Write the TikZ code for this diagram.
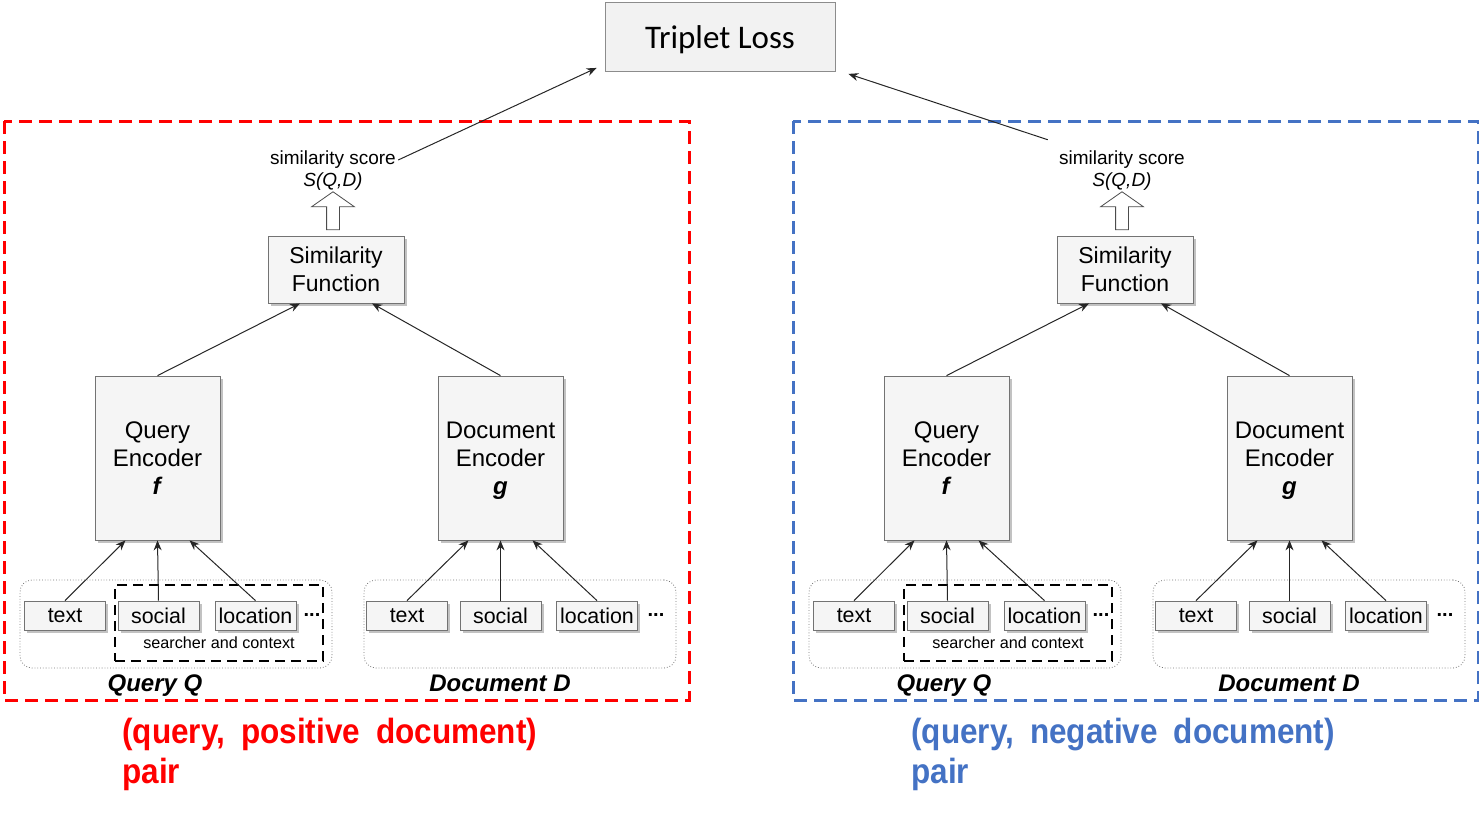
\documentclass[tikz,border=0pt]{standalone}
\usepackage{fontspec}
\setmainfont{Liberation Sans}
\newfontfamily\calib{Carlito}
\newfontfamily\pairfont[FakeStretch=0.9]{Liberation Sans}
\usetikzlibrary{arrows.meta,shadows,shapes.arrows}
\definecolor{pairred}{HTML}{FF0000}
\definecolor{pairblue}{HTML}{4472C4}

\begin{document}
\begin{tikzpicture}[x=0.5pt,y=-0.5pt,
  box/.style={draw=black!55,fill=black!4,align=center,inner sep=0pt,
    drop shadow={shadow xshift=1.3pt,shadow yshift=-1.3pt,fill=black!40,opacity=.6}},
  encoder/.style={box,minimum width=62.5pt,minimum height=82pt,font=\fontsize{12}{14}\selectfont},
  simfun/.style={box,minimum width=68pt,minimum height=33.5pt,font=\fontsize{11.5}{14}\selectfont},
  field/.style={box,minimum width=40.5pt,minimum height=14.5pt,font=\fontsize{10.7}{12}\selectfont},
  group/.style={draw=black!55,densely dotted,rounded corners=6pt,minimum width=156pt,minimum height=44pt},
  context/.style={draw=black,line width=1pt,dash pattern=on 5pt off 3pt,minimum width=104pt,minimum height=38pt},
  pairframe/.style={line width=1.5pt,dash pattern=on 6.5pt off 3.5pt},
  pairlabel/.style={font=\pairfont\bfseries\fontsize{17.5}{20}\selectfont,align=left,inner sep=0pt},
  losbox/.style={draw=black!45,fill=black!5,minimum width=115pt,minimum height=34.5pt,text depth=0pt,
    font=\calib\fontsize{16.5}{18}\selectfont},
  hollow/.style={single arrow,draw=black!70,fill=white,inner sep=3pt,minimum height=19pt,
    single arrow head extend=7.5pt,single arrow tip angle=110,rotate=90},
  conn/.style={draw=black!85,line width=0.5pt,-{Stealth[length=5pt,width=4pt]}}]

\useasboundingbox (0,0) rectangle (1479,814);

\node[losbox] (loss) at (720,37) {Triplet Loss};

\foreach \p/\dx/\col/\kind in {L/0/pairred/positive,R/789/pairblue/negative}{
\begin{scope}[shift={(\dx,0)}]
  % pair frame and its caption
  \draw[pairframe,draw=\col] (4,121) rectangle (689,700);
  \node[pairlabel,text=\col,anchor=west] (cap\p) at (122,754) {(query,\hspace{8pt}\kind\hspace{8pt}document)\\pair};

  % score
  \node[font=\fontsize{9.5}{11}\selectfont,inner sep=1pt] (score\p) at (333,160) {similarity score};
  \node[font=\fontsize{9.5}{11}\selectfont\itshape,inner sep=1pt] (sqd\p) at (333,182) {S(Q,D)};
  \node[hollow] (up\p) at (333,213) {};
  \node[simfun] (sim\p) at (336,269.5) {Similarity\\Function};

  % encoders
  \node[encoder] (qenc\p) at (157.5,458) {Query\\Encoder\\\textbf{\textit{f}}};
  \node[encoder] (denc\p) at (500.5,458) {Document\\Encoder\\\smash{\textbf{\textit{g}}}};
  \draw[conn] (qenc\p.north) -- ([xshift=-18pt]sim\p.south);
  \draw[conn] (denc\p.north) -- ([xshift=18pt]sim\p.south);

  % query input
  \node[group] (qin\p) at (176,624) {};
  \node[context] (ctx\p) at (219,623) {};
  \node[field] (qtext\p) at (65,615.5) {text};
  \node[field] (qsoc\p) at (158.5,615.5) {social};
  \node[field] (qloc\p) at (255.5,615.5) {location};
  \node[font=\bfseries] (qdots\p) at (312,615) {...};
  \node[font=\fontsize{8.1}{10}\selectfont] (sc\p) at (219,643) {searcher and context};
  \node[font=\bfseries\itshape\fontsize{12}{14}\selectfont] (qname\p) at (155,686) {Query Q};
  \draw[conn] (qtext\p.north) -- ([xshift=-16pt]qenc\p.south);
  \draw[conn] (qsoc\p.north) -- (qenc\p.south);
  \draw[conn] (qloc\p.north) -- ([xshift=16pt]qenc\p.south);

  % document input
  \node[group] (din\p) at (520,624) {};
  \node[field] (dtext\p) at (407,615.5) {text};
  \node[field] (dsoc\p) at (500.5,615.5) {social};
  \node[field] (dloc\p) at (597,615.5) {location};
  \node[font=\bfseries] (ddots\p) at (656,615) {...};
  \node[font=\bfseries\itshape\fontsize{12}{14}\selectfont] (dname\p) at (500,683) {Document D};
  \draw[conn] (dtext\p.north) -- ([xshift=-16pt]denc\p.south);
  \draw[conn] (dsoc\p.north) -- (denc\p.south);
  \draw[conn] (dloc\p.north) -- ([xshift=16pt]denc\p.south);
\end{scope}
}

\draw[conn] (scoreL.east) -- ([xshift=-4pt,yshift=2pt]loss.south west);
\draw[conn] ([xshift=-4.5pt,yshift=4.5pt]scoreR.north west) -- ([xshift=6.5pt,yshift=-1pt]loss.south east);
\end{tikzpicture}
\end{document}
